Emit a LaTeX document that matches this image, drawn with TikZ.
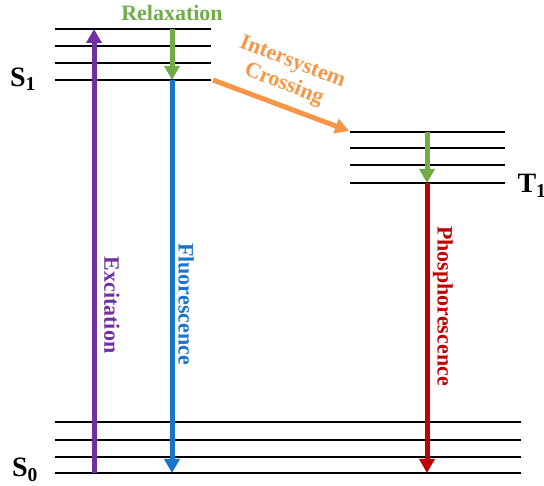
\documentclass[tikz,border=0pt]{standalone}
\usepackage{fontspec}
\setmainfont{Liberation Serif}
\usetikzlibrary{arrows.meta,positioning}

\definecolor{excol}{HTML}{7030A0}
\definecolor{relcol}{HTML}{70AD47}
\definecolor{flcol}{HTML}{1874CD}
\definecolor{isccol}{HTML}{F79646}
\definecolor{phcol}{HTML}{C00000}

\begin{document}
\begin{tikzpicture}[x=1pt,y=-1pt,
level/.style={draw=black, line width=1.3pt},
lowest/.style={draw=black, line width=2.6pt},
trans/.style={line width=5pt, -{Triangle[width=15pt,length=14pt]}},
lbl/.style={font=\bfseries\fontsize{22}{24}\selectfont, inner sep=0pt},
state/.style={font=\bfseries\fontsize{28}{30}\selectfont, inner sep=0pt}
]
\useasboundingbox (0,0) rectangle (544,486);

% vibrational levels
\foreach \y in {29,46,63} \draw[level] (55,\y) -- (211,\y);
\foreach \y in {132,148,165} \draw[level] (350,\y) -- (505,\y);
\foreach \y in {422,440,457} \draw[level] (55,\y) -- (521,\y);
\draw[lowest] (55,80) -- (211,80);
\draw[lowest] (350,183) -- (505,183);
\draw[lowest] (55,473) -- (521,473);

% states
\node[state](s1) at (23,79) {S$_\mathbf{1}$};
\node[state](t1) at (532,186) {T$_\mathbf{1}$};
\node[state](s0) at (25,470) {S$_\mathbf{0}$};

% transition end points
\coordinate (exc_lo) at (94,473);
\coordinate (exc_hi) at (94,29);
\coordinate (rel_hi) at (172,29);
\coordinate (rel_lo) at (172,80);
\coordinate (fl_lo) at (172,473);
\coordinate (isc_a) at (213,80);
\coordinate (isc_b) at (349,131);
\coordinate (trel_hi) at (427,132);
\coordinate (trel_lo) at (427,183);
\coordinate (ph_lo) at (427,473);

\draw[trans, excol] (exc_lo) -- (exc_hi);
\draw[trans, relcol] (rel_hi) -- (rel_lo);
\draw[trans, flcol] (rel_lo) -- (fl_lo);
\draw[trans, isccol] (isc_a) -- (isc_b);
\draw[trans, relcol] (trel_hi) -- (trel_lo);
\draw[trans, phcol] (trel_lo) -- (ph_lo);

% labels
\node[lbl, relcol](relax) at (172,13) {Relaxation};
\node[lbl, excol, rotate=-90](excite) at (112,305) {Excitation};
\node[lbl, flcol, rotate=-90](fluor) at (186,304) {Fluorescence};
\node[lbl, phcol, rotate=-90](phos) at (443,306) {Phosphorescence};
\node[lbl, isccol, rotate=-21, align=center](isc) at (288,74) {Intersystem\\Crossing};
\end{tikzpicture}
\end{document}
